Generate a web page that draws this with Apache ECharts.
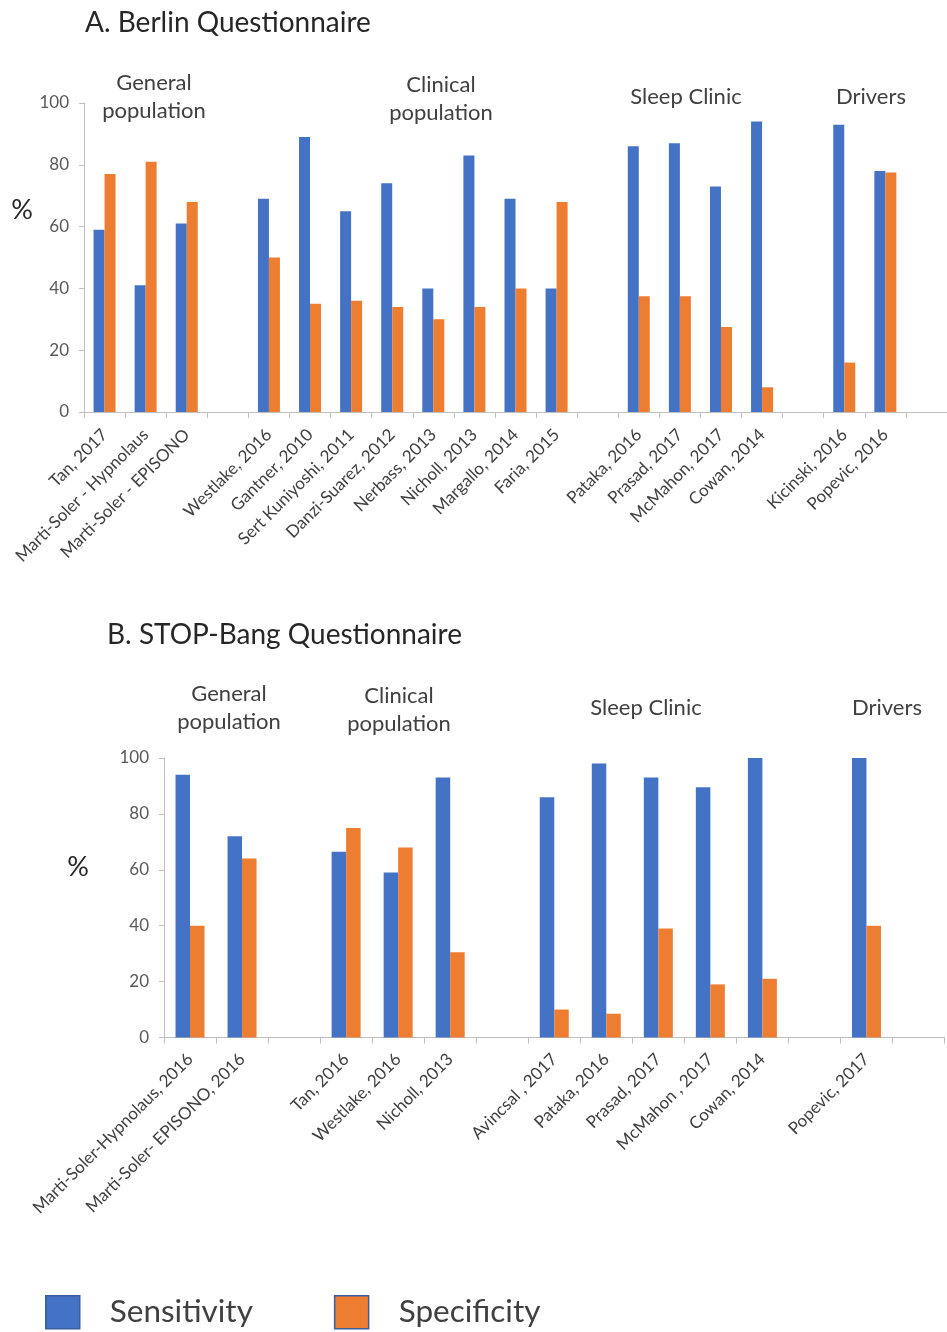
<!DOCTYPE html>
<html>
<head>
<meta charset="utf-8">
<script src="https://cdn.jsdelivr.net/npm/echarts@6/dist/echarts.min.js"></script>
<style>
  html, body { margin: 0; padding: 0; background: #ffffff; }
  #chart { width: 947px; height: 1332px; }
</style>
</head>
<body>
<div id="chart"></div>
<script>
// A. Berlin Questionnaire — empty strings leave gaps between study groups
const berlinStudies = [
  'Tan, 2017', 'Marti-Soler - Hypnolaus', 'Marti-Soler - EPISONO', '',
  'Westlake, 2016', 'Gantner, 2010', 'Sert Kuniyoshi, 2011', 'Danzi-Suarez, 2012',
  'Nerbass, 2013', 'Nicholl, 2013', 'Margallo, 2014', 'Faria, 2015', '',
  'Pataka, 2016', 'Prasad, 2017', 'McMahon, 2017', 'Cowan, 2014', '',
  'Kicinski, 2016', 'Popevic, 2016', ''
];
const berlinSensitivity = [59, 41, 61, null, 69, 89, 65, 74, 40, 83, 69, 40, null, 86, 87, 73, 94, null, 93, 78, null];
const berlinSpecificity = [77, 81, 68, null, 50, 35, 36, 34, 30, 34, 40, 68, null, 37.5, 37.5, 27.5, 8, null, 16, 77.5, null];

// B. STOP-Bang Questionnaire
const stopBangStudies = [
  'Marti-Soler-Hypnolaus, 2016', 'Marti-Soler- EPISONO, 2016', '',
  'Tan, 2016', 'Westlake, 2016', 'Nicholl, 2013', '',
  'Avincsal , 2017', 'Pataka, 2016', 'Prasad, 2017', 'McMahon , 2017', 'Cowan, 2014', '',
  'Popevic, 2017', ''
];
const stopBangSensitivity = [94, 72, null, 66.5, 59, 93, null, 86, 98, 93, 89.5, 100, null, 100, null];
const stopBangSpecificity = [40, 64, null, 75, 68, 30.5, null, 10, 8.5, 39, 19, 21, null, 40, null];

// Axis tick values
const yTicks = [0, 20, 40, 60, 80, 100];

// Group headings above each panel
const berlinGroups = [
  { text: 'General\npopulation', x: 154, y: 97 },
  { text: 'Clinical\npopulation', x: 441, y: 99 },
  { text: 'Sleep Clinic', x: 686, y: 97 },
  { text: 'Drivers', x: 871, y: 97 }
];
const stopBangGroups = [
  { text: 'General\npopulation', x: 229, y: 708 },
  { text: 'Clinical\npopulation', x: 399, y: 710 },
  { text: 'Sleep Clinic', x: 646, y: 708 },
  { text: 'Drivers', x: 887, y: 708 }
];

const BLUE = '#4472C4';
const ORANGE = '#ED7D31';
const FONT = 'Lato, "Open Sans", sans-serif';
const AXIS_GREY = '#BFBFBF';

function valueAxis(gridIndex) {
  return {
    type: 'value', gridIndex, min: yTicks[0], max: yTicks[yTicks.length - 1],
    interval: yTicks[1] - yTicks[0],
    axisLine: { show: true, lineStyle: { color: AXIS_GREY, width: 1 } },
    axisTick: { show: true, length: 5, lineStyle: { color: AXIS_GREY } },
    splitLine: { show: false },
    axisLabel: { color: '#595959', fontSize: 17, fontFamily: FONT, margin: 15 }
  };
}

function categoryAxis(gridIndex, data, margin) {
  return {
    type: 'category', gridIndex, data,
    boundaryGap: true,
    axisLine: { show: true, lineStyle: { color: AXIS_GREY, width: 1 } },
    axisTick: { show: true, interval: 0, length: 6, lineStyle: { color: AXIS_GREY } },
    axisLabel: { interval: 0, rotate: 45, color: '#404040', fontSize: 17, fontFamily: FONT, margin }
  };
}

function groupText(g) {
  return {
    type: 'text', x: g.x, y: g.y,
    style: {
      text: g.text, align: 'center', verticalAlign: 'middle',
      fontSize: 22, lineHeight: 28, fontFamily: FONT, fill: '#404040'
    }
  };
}

const chart = echarts.init(document.getElementById('chart'), null, { renderer: 'canvas' });

chart.setOption({
  backgroundColor: '#ffffff',
  animation: false,
  title: [
    { text: 'A. Berlin Questionnaire', left: 80, top: 4,
      textStyle: { fontSize: 28, fontWeight: 'normal', color: '#262626', fontFamily: FONT } },
    { text: 'B. STOP-Bang Questionnaire', left: 102, top: 616,
      textStyle: { fontSize: 28, fontWeight: 'normal', color: '#262626', fontFamily: FONT } }
  ],
  legend: {
    data: ['Sensitivity', 'Specificity'],
    left: 40, top: 1290,
    icon: 'rect', itemWidth: 34, itemHeight: 33, itemGap: 81,
    itemStyle: { borderColor: '#3B5F9E', borderWidth: 1.5 },
    textStyle: { fontSize: 31.5, color: '#404040', fontFamily: FONT, padding: [0, 0, 0, 25] }
  },
  grid: [
    { left: 84, top: 103, width: 865, height: 309 },
    { left: 164, top: 758, width: 780.5, height: 279.5 }
  ],
  xAxis: [categoryAxis(0, berlinStudies, 20), categoryAxis(1, stopBangStudies, 19)],
  yAxis: [valueAxis(0), valueAxis(1)],
  series: [
    { name: 'Sensitivity', type: 'bar', xAxisIndex: 0, yAxisIndex: 0, data: berlinSensitivity,
      barWidth: 11, barGap: '0%', itemStyle: { color: BLUE } },
    { name: 'Specificity', type: 'bar', xAxisIndex: 0, yAxisIndex: 0, data: berlinSpecificity,
      barWidth: 11, barGap: '0%', itemStyle: { color: ORANGE } },
    { name: 'Sensitivity', type: 'bar', xAxisIndex: 1, yAxisIndex: 1, data: stopBangSensitivity,
      barWidth: 14.5, barGap: '0%', itemStyle: { color: BLUE } },
    { name: 'Specificity', type: 'bar', xAxisIndex: 1, yAxisIndex: 1, data: stopBangSpecificity,
      barWidth: 14.5, barGap: '0%', itemStyle: { color: ORANGE } }
  ],
  graphic: [
    ...berlinGroups.map(groupText),
    ...stopBangGroups.map(groupText),
    { type: 'text', x: 22, y: 210,
      style: { text: '%', align: 'center', verticalAlign: 'middle', fontSize: 27, fontFamily: FONT, fill: '#262626' } },
    { type: 'text', x: 78, y: 867,
      style: { text: '%', align: 'center', verticalAlign: 'middle', fontSize: 27, fontFamily: FONT, fill: '#262626' } }
  ]
});
</script>
</body>
</html>
